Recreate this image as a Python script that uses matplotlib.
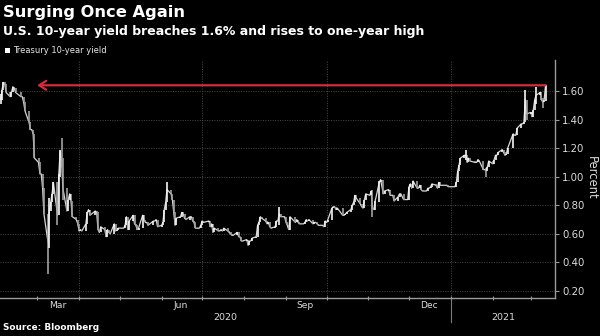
import numpy as np
import pandas as pd
import matplotlib
matplotlib.use("Agg")
import matplotlib.pyplot as plt
from matplotlib.transforms import blended_transform_factory

# US Treasury market closures inside the window
market_holidays = [
    "2020-02-17", "2020-04-10", "2020-05-25", "2020-07-03", "2020-09-07",
    "2020-10-12", "2020-11-11", "2020-11-26", "2020-12-25", "2021-01-01",
    "2021-01-18", "2021-02-15",
]

# Daily closing 10-year yield (%), one list per month
yield_2020_02 = [1.54, 1.61, 1.66, 1.65, 1.59, 1.56, 1.59, 1.63, 1.62, 1.59,
                 1.56, 1.56, 1.52, 1.46, 1.38, 1.33, 1.33, 1.30, 1.13]
yield_2020_03 = [1.10, 1.02, 1.02, 0.92, 0.74, 0.54, 0.76, 0.82, 0.88, 0.96,
                 0.73, 1.02, 1.18, 1.12, 0.92, 0.76, 0.84, 0.88, 0.83, 0.72,
                 0.70, 0.67]
yield_2020_04 = [0.62, 0.63, 0.62, 0.67, 0.75, 0.77, 0.73, 0.76, 0.75, 0.63,
                 0.61, 0.65, 0.63, 0.58, 0.63, 0.61, 0.60, 0.67, 0.62, 0.63,
                 0.64]
yield_2020_05 = [0.64, 0.64, 0.66, 0.72, 0.63, 0.69, 0.73, 0.67, 0.66, 0.63,
                 0.64, 0.73, 0.70, 0.68, 0.68, 0.66, 0.69, 0.69, 0.70, 0.65]
yield_2020_06 = [0.66, 0.68, 0.77, 0.82, 0.91, 0.88, 0.84, 0.75, 0.66, 0.71,
                 0.72, 0.75, 0.74, 0.71, 0.70, 0.72, 0.72, 0.69, 0.68, 0.64,
                 0.64, 0.66]
yield_2020_07 = [0.69, 0.68, 0.69, 0.65, 0.67, 0.61, 0.64, 0.62, 0.62, 0.63,
                 0.62, 0.64, 0.62, 0.61, 0.60, 0.59, 0.59, 0.61, 0.58, 0.58,
                 0.55, 0.55]
yield_2020_08 = [0.56, 0.52, 0.55, 0.55, 0.57, 0.58, 0.66, 0.68, 0.72, 0.71,
                 0.69, 0.67, 0.68, 0.65, 0.64, 0.65, 0.69, 0.69, 0.74, 0.72,
                 0.72]
yield_2020_09 = [0.68, 0.66, 0.63, 0.72, 0.68, 0.70, 0.68, 0.67, 0.67, 0.68,
                 0.70, 0.69, 0.70, 0.67, 0.68, 0.68, 0.67, 0.66, 0.66, 0.65,
                 0.69]
yield_2020_10 = [0.68, 0.70, 0.78, 0.79, 0.79, 0.77, 0.78, 0.73, 0.73, 0.74,
                 0.75, 0.77, 0.80, 0.82, 0.87, 0.85, 0.81, 0.79, 0.78, 0.84,
                 0.88]
yield_2020_11 = [0.87, 0.90, 0.78, 0.77, 0.83, 0.96, 0.98, 0.88, 0.90, 0.91,
                 0.87, 0.87, 0.87, 0.83, 0.86, 0.88, 0.88, 0.84, 0.84]
yield_2020_12 = [0.93, 0.95, 0.92, 0.97, 0.92, 0.92, 0.94, 0.91, 0.90, 0.90,
                 0.92, 0.92, 0.93, 0.95, 0.94, 0.92, 0.96, 0.94, 0.94, 0.94,
                 0.93, 0.93]
yield_2021_01 = [0.93, 0.96, 1.04, 1.08, 1.13, 1.15, 1.15, 1.10, 1.13, 1.11,
                 1.10, 1.10, 1.12, 1.11, 1.05, 1.05, 1.04, 1.07, 1.11]
yield_2021_02 = [1.09, 1.12, 1.15, 1.15, 1.17, 1.19, 1.17, 1.15, 1.16, 1.20,
                 1.30, 1.29, 1.29, 1.34, 1.37, 1.37, 1.38, 1.54, 1.44]
yield_2021_03 = [1.45, 1.42, 1.47, 1.54, 1.57, 1.59, 1.54, 1.52, 1.54, 1.64]

# Intraday extremes on the most volatile sessions (low, high)
session_ranges = {
    "2020-02-03": (1.51, 1.58),
    "2020-03-09": (0.32, 0.60),
    "2020-03-10": (0.50, 0.85),
    "2020-03-16": (0.66, 0.84),
    "2020-03-18": (1.00, 1.19),
    "2020-03-19": (1.08, 1.27),
    "2020-03-20": (0.84, 1.13),
    "2020-06-05": (0.83, 0.96),
    "2020-08-27": (0.66, 0.79),
    "2020-11-04": (0.72, 0.91),
    "2020-11-09": (0.82, 0.97),
    "2021-01-12": (1.12, 1.19),
    "2021-01-27": (1.00, 1.06),
    "2021-02-25": (1.38, 1.61),
    "2021-02-26": (1.40, 1.52),
    "2021-03-05": (1.51, 1.63),
    "2021-03-10": (1.48, 1.55),
    "2021-03-12": (1.53, 1.64),
}

latest_level = 1.64
y_ticks = [0.20, 0.40, 0.60, 0.80, 1.00, 1.20, 1.40, 1.60]
month_labels = {"2020-03-16": "Mar", "2020-06-15": "Jun",
                "2020-09-15": "Sep", "2020-12-16": "Dec"}
year_labels = {"2020-07-18": "2020", "2021-02-09": "2021"}

days = pd.bdate_range("2020-02-03", "2021-03-12", freq="C",
                      holidays=market_holidays)
closes = np.concatenate([
    yield_2020_02, yield_2020_03, yield_2020_04, yield_2020_05,
    yield_2020_06, yield_2020_07, yield_2020_08, yield_2020_09,
    yield_2020_10, yield_2020_11, yield_2020_12, yield_2021_01,
    yield_2021_02, yield_2021_03,
])
assert len(closes) == len(days)

prev = np.r_[closes[0], closes[:-1]]
lo = np.minimum(prev, closes)
hi = np.maximum(prev, closes)
for d, (l, h) in session_ranges.items():
    i = days.get_loc(pd.Timestamp(d))
    lo[i] = min(lo[i], l)
    hi[i] = max(hi[i], h)
up = closes >= prev

W, H = 600, 336
fig = plt.figure(figsize=(W / 100, H / 100), dpi=100, facecolor="black")
ax = fig.add_axes([0, 1 - 298 / H, 555 / W, 238 / H])
ax.set_facecolor("black")

grid_c = "#4a4a4a"
for yv in y_ticks:
    ax.axhline(yv, color=grid_c, lw=0.7, ls=(0, (1, 1.5)), zorder=0)
for q in ["2020-04-01", "2020-07-01", "2020-10-01", "2021-01-01"]:
    ax.axvline(pd.Timestamp(q), color=grid_c, lw=0.7, ls=(0, (1, 1.5)), zorder=0)

# Daily bars joined by the closing line
ax.plot(days, closes, color="#d6d6d6", lw=0.9, zorder=2)
ax.vlines(days[~up], lo[~up], hi[~up], color="#a2a2a2", lw=1.2, zorder=3)
ax.vlines(days[up], lo[up], hi[up], color="#f4f4f4", lw=1.2, zorder=3)

# Arrow back to the year-ago level
red = "#d62b3a"
ax.annotate("", xy=(pd.Timestamp("2020-03-01"), latest_level),
            xytext=(days[-1], latest_level),
            arrowprops=dict(arrowstyle="->,head_length=0.5,head_width=0.32",
                            color=red, lw=1.6, shrinkA=0, shrinkB=0),
            zorder=5)

ax.set_xlim(pd.Timestamp("2020-02-02 12:00"), pd.Timestamp("2021-03-19"))
ax.set_ylim(0.151, 1.817)

# Axes styling
for s in ["left", "top"]:
    ax.spines[s].set_visible(False)
for s in ["right", "bottom"]:
    ax.spines[s].set_color("#9a9a9a")
    ax.spines[s].set_linewidth(1.0)

ax.yaxis.tick_right()
ax.set_yticks(y_ticks)
ax.set_yticklabels([f"{v:.2f}" for v in y_ticks])
ax.tick_params(axis="y", colors="#9a9a9a", labelcolor="#dcdcdc",
               length=3, width=0.8, pad=2, labelsize=7.3)

month_starts = pd.date_range("2020-03-01", "2021-03-01", freq="MS")
ax.set_xticks(month_starts)
ax.set_xticklabels([])
ax.tick_params(axis="x", which="major", colors="#9a9a9a", length=2.5,
               width=0.8, direction="inout")
ax.set_xticks([pd.Timestamp(d) for d in month_labels], minor=True)
ax.set_xticklabels(list(month_labels.values()), minor=True)
ax.tick_params(axis="x", which="minor", length=0, pad=2.5,
               labelcolor="#dcdcdc", labelsize=6.6)

trans = blended_transform_factory(ax.transData, ax.transAxes)
for d, t in year_labels.items():
    ax.text(pd.Timestamp(d), -19 / 238, t, transform=trans, ha="center",
            va="center", color="#dcdcdc", fontsize=6.8)
ax.plot([pd.Timestamp("2021-01-01")] * 2, [0, -24 / 238], transform=trans,
        color="#7a7a7a", lw=0.8, clip_on=False)

fig.text(591 / W, 1 - 178 / H, "Percent", rotation=-90, ha="center",
         va="center", color="#dcdcdc", fontsize=8.3)

# Header and footer
fig.text(3 / W, 1 - 12.5 / H, "Surging Once Again", ha="left", va="center",
         color="white", fontsize=11.7, fontweight="bold")
fig.text(3 / W, 1 - 31 / H,
         "U.S. 10-year yield breaches 1.6% and rises to one-year high",
         ha="left", va="center", color="white", fontsize=9,
         fontweight="bold")
fig.patches.append(plt.Rectangle((5 / W, 1 - 53 / H), 5 / W, 5 / H,
                                 transform=fig.transFigure,
                                 facecolor="white", edgecolor="none"))
fig.text(13 / W, 1 - 50.5 / H, "Treasury 10-year yield", ha="left",
         va="center", color="#e6e6e6", fontsize=6.05)
fig.text(3 / W, 1 - 327.5 / H, "Source: Bloomberg", ha="left", va="center",
         color="white", fontsize=6.4, fontweight="bold")

fig.savefig("out.png", dpi=100, facecolor="black")
